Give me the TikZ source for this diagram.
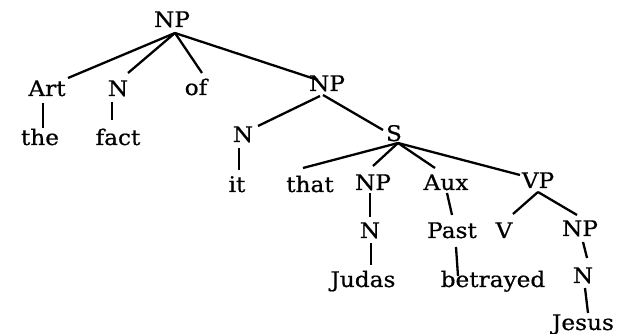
\documentclass[tikz,border=0pt]{standalone}
\usepackage{fontspec}
\setmainfont{DejaVu Serif}[FakeStretch=1.08,FakeBold=0.6]
\usetikzlibrary{calc}
\begin{document}
\begin{tikzpicture}[x=1pt,y=-1pt,
  lbl/.style={anchor=base,inner sep=0pt,font=\fontsize{21.5}{22}\selectfont},
  branch/.style={line width=2.3pt}]
\useasboundingbox (0,0) rectangle (622,334);
% labels, placed by baseline
\node[lbl] (np1) at (172,27) {NP};
\node[lbl] (art) at (47,96) {Art};
\node[lbl] (n1) at (118,96) {N};
\node[lbl] (of) at (196,95) {of};
\node[lbl] (np2) at (327,91) {NP};
\node[lbl] (the) at (40,145) {the};
\node[lbl] (fact) at (118,145) {fact};
\node[lbl] (n2) at (243,142) {N};
\node[lbl] (s) at (394,141) {S};
\node[lbl] (it) at (237,192) {it};
\node[lbl] (that) at (310,192) {that};
\node[lbl] (np3) at (373,190) {NP};
\node[lbl] (aux) at (446,190) {Aux};
\node[lbl] (vp) at (538,188) {VP};
\node[lbl] (n3) at (370,238) {N};
\node[lbl] (past) at (452,238) {Past};
\node[lbl] (v) at (504,238) {V};
\node[lbl] (np4) at (580,236) {NP};
\node[lbl] (judas) at (363,287) {Judas};
\node[lbl] (betrayed) at (493,287) {betrayed};
\node[lbl] (n4) at (583,283) {N};
\node[lbl] (jesus) at (583,330) {Jesus};
% branches
\draw[branch] ($(np1.base)+(3,6)$) -- ($(art.base)+(21,-18)$);
\draw[branch] ($(np1.base)+(3,6)$) -- ($(n1.base)+(10,-23)$);
\draw[branch] ($(np1.base)+(3,6)$) -- ($(of.base)+(6,-22)$);
\draw[branch] ($(np1.base)+(3,6)$) -- ($(np2.base)+(-9,-11)$);
\draw[branch] ($(art.base)+(-4,7)$) -- ($(the.base)+(3,-17)$);
\draw[branch] ($(n1.base)+(-6,6)$) -- ($(fact.base)+(-6,-25)$);
\draw[branch] ($(np2.base)+(-7,5)$) -- ($(n2.base)+(15,-16)$);
\draw[branch] ($(np2.base)+(-4,4)$) -- ($(s.base)+(-11,-11)$);
\draw[branch] ($(n2.base)+(-4,6)$) -- ($(it.base)+(2,-22)$);
\draw[branch] ($(s.base)+(4,2)$) -- ($(that.base)+(-7,-24)$);
\draw[branch] ($(s.base)+(4,2)$) -- ($(np3.base)+(0,-24)$);
\draw[branch] ($(s.base)+(4,2)$) -- ($(aux.base)+(-11,-22)$);
\draw[branch] ($(s.base)+(4,2)$) -- ($(vp.base)+(-18,-13)$);
\draw[branch] ($(np3.base)+(-3,3)$) -- ($(n3.base)+(0,-21)$);
\draw[branch] ($(aux.base)+(1,3)$) -- ($(past.base)+(0,-23)$);
\draw[branch] ($(vp.base)+(0,4)$) -- ($(v.base)+(9,-24)$);
\draw[branch] ($(vp.base)+(0,4)$) -- ($(np4.base)+(-3,-21)$);
\draw[branch] ($(n3.base)+(1,5)$) -- ($(judas.base)+(8,-22)$);
\draw[branch] ($(past.base)+(4,9)$) -- ($(betrayed.base)+(-35,-11)$);
\draw[branch] ($(np4.base)+(3,6)$) -- ($(n4.base)+(4,-25)$);
\draw[branch] ($(n4.base)+(2,5)$) -- ($(jesus.base)+(5,-17)$);
\end{tikzpicture}
\end{document}
